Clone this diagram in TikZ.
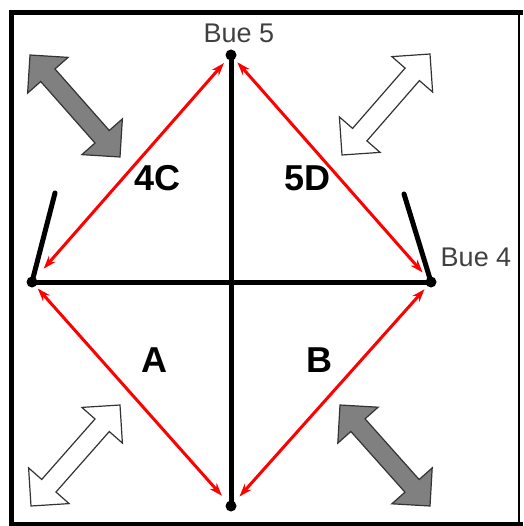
\documentclass[tikz,border=0pt]{standalone}
\usepackage{fontspec}
\setmainfont{Liberation Sans}
\usetikzlibrary{arrows.meta,calc}
\newcommand\blockarr[3]{%
  \draw[#1] (#2)
    -- ($(#2)!27pt!(#3)!27pt!90:(#3)$)
    -- ($(#2)!27pt!(#3)!9.5pt!90:(#3)$)
    -- ($(#3)!27pt!(#2)!9.5pt!-90:(#2)$)
    -- ($(#3)!27pt!(#2)!27pt!-90:(#2)$)
    -- (#3)
    -- ($(#3)!27pt!(#2)!27pt!90:(#2)$)
    -- ($(#3)!27pt!(#2)!9.5pt!90:(#2)$)
    -- ($(#2)!27pt!(#3)!9.5pt!-90:(#3)$)
    -- ($(#2)!27pt!(#3)!27pt!-90:(#3)$)
    -- cycle;}
\begin{document}
\begin{tikzpicture}[x=1pt,y=-1pt,
  dot/.style={circle,fill=black,inner sep=0pt,minimum size=11pt},
  blk/.style={line width=5pt,black},
  redarr/.style={line width=3pt,red,{Stealth[length=13pt,width=9pt]}-{Stealth[length=13pt,width=9pt]}},
  grayblock/.style={fill=gray,draw=black!80,line width=1.2pt,line join=miter},
  whiteblock/.style={fill=white,draw=black!80,line width=1.2pt,line join=miter},
  lbl/.style={inner sep=0pt,font=\bfseries\fontsize{36}{36}\selectfont},
  bue/.style={inner sep=0pt,text=black!75,font=\fontsize{27}{27}\selectfont}]
\useasboundingbox (0,0) rectangle (523,526);
\fill[white] (0,0) rectangle (523,526);
% frame
\draw[line width=5pt] (523,13) -- (11,13) -- (11,524) -- (523,524);
\draw[line width=1.5pt] (519,13) -- (519,524);
% points
\node[dot] (T) at (231,55) {};
\node[dot] (B) at (231,506) {};
\node[dot] (L) at (32,282) {};
\node[dot] (R) at (431,282) {};
\coordinate (LT) at (55,193);
\coordinate (RT) at (404,194);
% black lines
\draw[blk] (T.center) -- (B.center);
\draw[blk] (L.center) -- (R.center);
\draw[blk,line cap=round] (L.center) -- (LT);
\draw[blk,line cap=round] (R.center) -- (RT);
% red arrows
\draw[redarr,shorten <=12pt,shorten >=5pt] (L) -- (T);
\draw[redarr,shorten <=4pt,shorten >=7pt] (T) -- (R);
\draw[redarr,shorten <=3pt,shorten >=8pt] (L) -- (B);
\draw[redarr,shorten <=7pt,shorten >=4pt] (B) -- (R);
% block arrows
\coordinate (g1a) at (30,55);  \coordinate (g1b) at (120,157);
\coordinate (w1a) at (430,54); \coordinate (w1b) at (342,155);
\coordinate (w2a) at (31,506); \coordinate (w2b) at (120,405);
\coordinate (g2a) at (340,405); \coordinate (g2b) at (430,506);
\blockarr{grayblock}{g1a}{g1b}
\blockarr{whiteblock}{w1a}{w1b}
\blockarr{whiteblock}{w2a}{w2b}
\blockarr{grayblock}{g2a}{g2b}
% labels
\node[lbl] (n4C) at (157.5,178) {4C};
\node[lbl] (n5D) at (307.5,178) {5D};
\node[lbl] (nA) at (154.5,360) {A};
\node[lbl] (nB) at (319.5,360) {B};
\node[bue] (bue5) at (239,33) {Bue 5};
\node[bue] (bue4) at (476,257.5) {Bue 4};
\end{tikzpicture}
\end{document}
